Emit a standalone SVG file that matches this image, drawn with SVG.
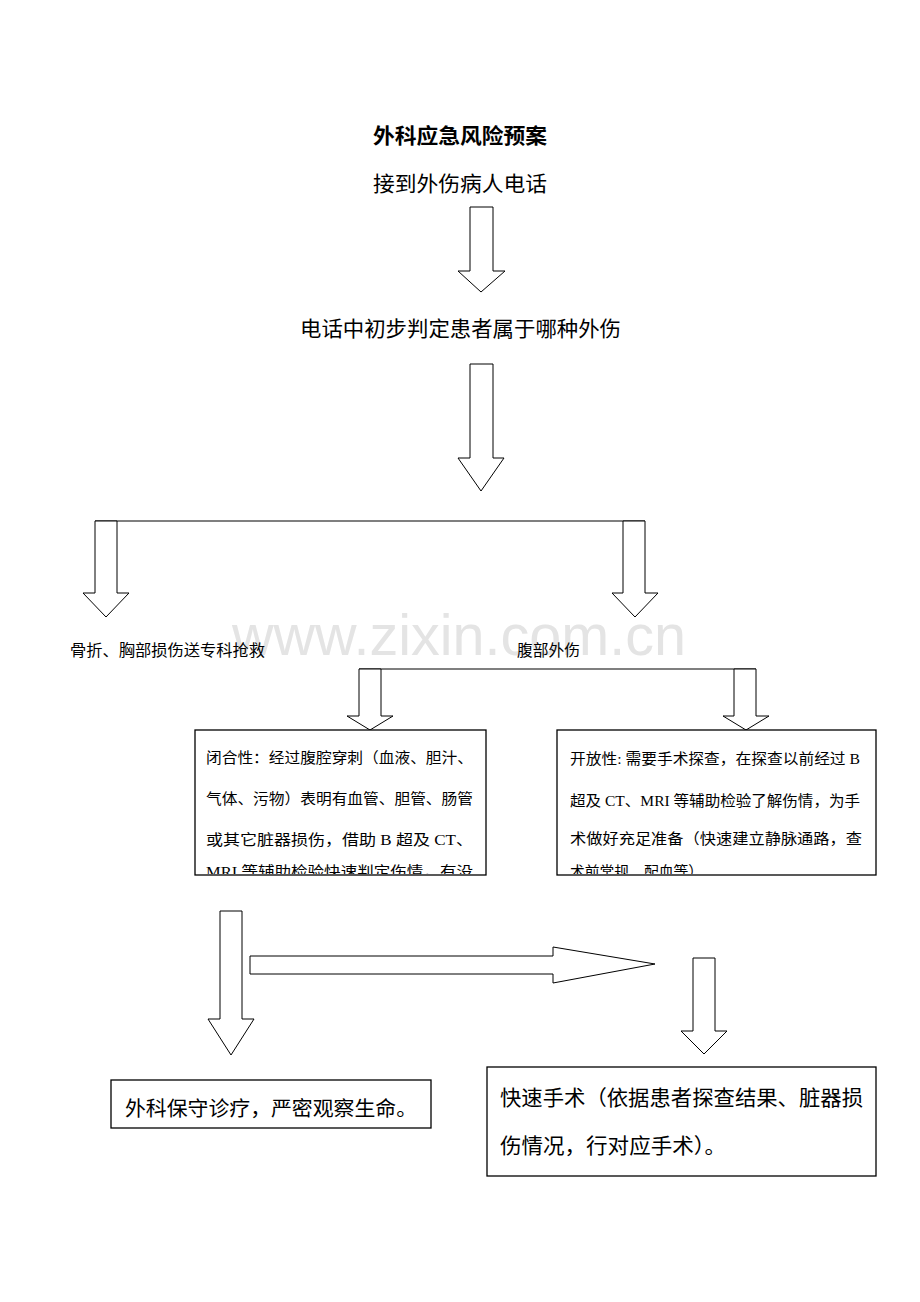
<svg xmlns="http://www.w3.org/2000/svg" width="920" height="1302" viewBox="0 0 920 1302">
<style>
.t{font-family:"Liberation Serif","Noto Sans CJK SC",serif;fill:#000}
.a{fill:#fff;stroke:#000;stroke-width:1}
.b{fill:#fff;stroke:#000;stroke-width:1.3}
.ln{fill:none;stroke:#000;stroke-width:1.2}
.wm{font-family:"Liberation Sans",Arial,sans-serif;fill:#e4e4e4}
</style>
<defs>
<clipPath id="cl"><rect x="196" y="731" width="290" height="143"/></clipPath>
<clipPath id="cr"><rect x="558" y="731" width="317" height="143"/></clipPath>
</defs>
<rect width="920" height="1302" fill="#fff"/>
<text class="wm" x="232" y="655" font-size="57" textLength="454" lengthAdjust="spacingAndGlyphs">www.zixin.com.cn</text>

<g id="title"><text class="t" x="460" y="143" font-size="21" font-weight="bold" text-anchor="middle" textLength="174" lengthAdjust="spacingAndGlyphs">外科应急风险预案</text></g>
<g id="n1"><text class="t" x="373" y="191" font-size="21" textLength="174" lengthAdjust="spacingAndGlyphs">接到外伤病人电话</text></g>
<g id="n2"><text class="t" x="300" y="336" font-size="21" textLength="321" lengthAdjust="spacingAndGlyphs">电话中初步判定患者属于哪种外伤</text></g>

<g id="connectors">
<polygon class="a" points="470,207 493,207 493,271 505,271 481,292 458,271 470,271"/>
<polygon class="a" points="470,364 493,364 493,458 504,458 481,491 458,458 470,458"/>
<line class="ln" x1="95" y1="521" x2="645" y2="521"/>
<polygon class="a" points="95,521 117,521 117,593 129,593 106,617 83,593 95,593"/>
<polygon class="a" points="623,521 645,521 645,593 658,593 635,617 612,593 623,593"/>
<line class="ln" x1="359" y1="669" x2="756" y2="669"/>
<polygon class="a" points="359,669 381,669 381,716 393,716 370,730 347,716 359,716"/>
<polygon class="a" points="734,669 756,669 756,716 769,716 746,730 723,716 734,716"/>
<polygon class="a" points="220,911 242,911 242,1019 254,1019 231,1055 208,1019 220,1019"/>
<polygon class="a" points="250,956 553,956 553,947 655,964 553,983 553,974 250,974"/>
<polygon class="a" points="693,958 715,958 715,1031 727,1031 704,1054 681,1031 693,1031"/>
</g>

<g id="n3"><text class="t" x="70" y="656" font-size="15.5" textLength="195" lengthAdjust="spacingAndGlyphs">骨折、胸部损伤送专科抢救</text></g>
<g id="n4"><text class="t" x="517" y="656" font-size="15.5" textLength="63" lengthAdjust="spacingAndGlyphs">腹部外伤</text></g>

<g id="n5">
<rect class="b" x="195" y="730" width="291" height="145"/>
<g clip-path="url(#cl)">
<text class="t" x="206" y="763" font-size="15" textLength="267" lengthAdjust="spacingAndGlyphs">闭合性：经过腹腔穿刺（血液、胆汁、</text>
<text class="t" x="206" y="804" font-size="15" textLength="267" lengthAdjust="spacingAndGlyphs">气体、污物）表明有血管、胆管、肠管</text>
<text class="t" x="206" y="845" font-size="15" textLength="267" lengthAdjust="spacingAndGlyphs">或其它脏器损伤，借助 B 超及 CT、</text>
<text class="t" x="206" y="877" font-size="15" textLength="267" lengthAdjust="spacingAndGlyphs">MRI 等辅助检验快速判定伤情，有没</text>
</g>
</g>

<g id="n6">
<rect class="b" x="557" y="730" width="319" height="145"/>
<g clip-path="url(#cr)">
<text class="t" x="570" y="764" font-size="15" textLength="290" lengthAdjust="spacingAndGlyphs">开放性: 需要手术探查，在探查以前经过 B</text>
<text class="t" x="570" y="806" font-size="15" textLength="290" lengthAdjust="spacingAndGlyphs">超及 CT、MRI 等辅助检验了解伤情，为手</text>
<text class="t" x="570" y="844" font-size="15" textLength="292" lengthAdjust="spacingAndGlyphs">术做好充足准备（快速建立静脉通路，查</text>
<text class="t" x="570" y="877" font-size="15" textLength="133" lengthAdjust="spacingAndGlyphs">术前常规、配血等）</text>
</g>
</g>

<g id="n7">
<rect class="b" x="111" y="1080" width="320" height="48"/>
<text class="t" x="125" y="1116" font-size="20.5" textLength="292" lengthAdjust="spacingAndGlyphs">外科保守诊疗，严密观察生命。</text>
</g>

<g id="n8">
<rect class="b" x="487" y="1067" width="389" height="109"/>
<text class="t" x="500" y="1105" font-size="21" textLength="363" lengthAdjust="spacingAndGlyphs">快速手术（依据患者探查结果、脏器损</text>
<text class="t" x="500" y="1153" font-size="21" textLength="226" lengthAdjust="spacingAndGlyphs">伤情况，行对应手术）。</text>
</g>
</svg>
